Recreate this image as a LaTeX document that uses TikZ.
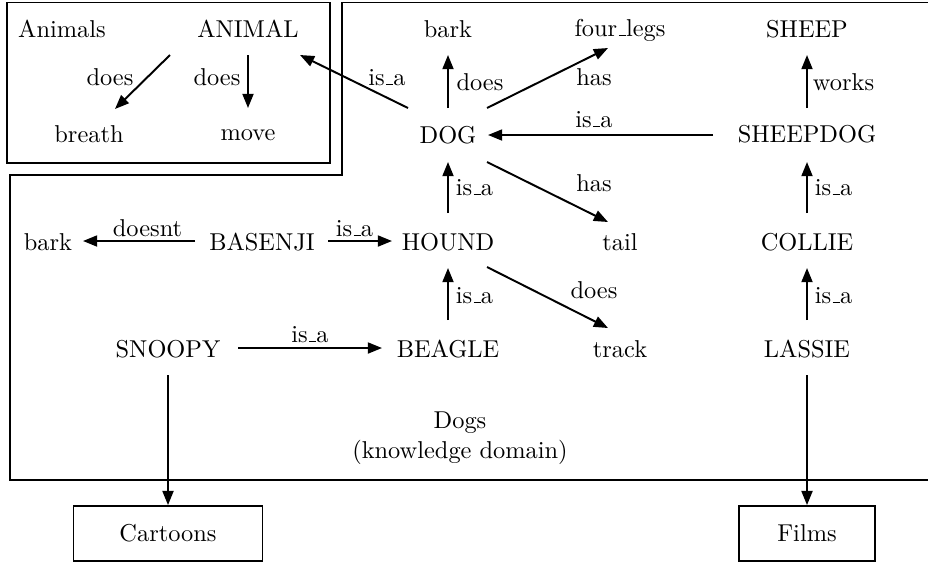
\documentclass[tikz,border=0pt]{standalone}
\usetikzlibrary{arrows.meta}
\newcommand\usc{\leavevmode\kern.06em\vbox{\hrule width.3em}}
\begin{document}
\begin{tikzpicture}[x=0.41pt,y=-0.41pt,
  txt/.style={anchor=base,inner sep=0pt},
  lbl/.style={anchor=base,inner sep=0pt},
  arr/.style={line width=0.8pt,-{Triangle[length=5.8pt,width=4.5pt]}},
  frame/.style={line width=0.8pt},
  box/.style={draw,line width=0.8pt,inner sep=0pt,minimum height=22.5pt}]
\useasboundingbox (0,0) rectangle (928,565);
% frames
\draw[frame] (7,2.5) rectangle (330,163);
\draw[frame] (928,2.5) -- (342,2.5) -- (342,175) -- (10,175) -- (10,480) -- (928,480);
% nodes
\node[txt] (animals) at (62,37) {Animals};
\node[txt] (animal) at (248,37) {ANIMAL};
\node[txt] (breath) at (89,142) {breath};
\node[txt] (move) at (248,140) {move};
\node[txt] (bark1) at (448,37) {bark};
\node[txt] (four) at (620,36) {four\usc legs};
\node[txt] (sheep) at (807,37) {SHEEP};
\node[txt] (dog) at (448,143) {DOG};
\node[txt] (sheepdog) at (807,142) {SHEEPDOG};
\node[txt] (bark2) at (48,250) {bark};
\node[txt] (basenji) at (262,250) {BASENJI};
\node[txt] (hound) at (448,250) {HOUND};
\node[txt] (tail) at (620,250) {tail};
\node[txt] (collie) at (807,250) {COLLIE};
\node[txt] (snoopy) at (168,357) {SNOOPY};
\node[txt] (beagle) at (448,357) {BEAGLE};
\node[txt] (track) at (620,357) {track};
\node[txt] (lassie) at (807,357) {LASSIE};
\node[txt] (dogs1) at (460,428) {Dogs};
\node[txt] (dogs2) at (460,458) {(knowledge domain)};
\node[box,minimum width=77.5pt] (cartoons) at (168,533.5) {Cartoons};
\node[box,minimum width=55.4pt] (films) at (807,533.5) {Films};
% connectors
\draw[arr] ([shift={(-78,18)}]animal.base) -- ([shift={(26,-33)}]breath.base);
\draw[arr] ([shift={(0,18)}]animal.base) -- ([shift={(0,-32)}]move.base);
\draw[arr] ([shift={(-40,-35)}]dog.base) -- ([shift={(52,18)}]animal.base);
\draw[arr] ([shift={(0,-35)}]dog.base) -- ([shift={(0,18)}]bark1.base);
\draw[arr] ([shift={(39,-35)}]dog.base) -- ([shift={(-12,12)}]four.base);
\draw[arr] ([shift={(-94,-7)}]sheepdog.base) -- ([shift={(40,-8)}]dog.base);
\draw[arr] ([shift={(0,-34)}]sheepdog.base) -- ([shift={(0,18)}]sheep.base);
\draw[arr] ([shift={(39,19)}]dog.base) -- ([shift={(-12,-28)}]tail.base);
\draw[arr] ([shift={(0,-37)}]hound.base) -- ([shift={(0,19)}]dog.base);
\draw[arr] ([shift={(0,-37)}]beagle.base) -- ([shift={(0,18)}]hound.base);
\draw[arr] ([shift={(39,17)}]hound.base) -- ([shift={(-12,-29)}]track.base);
\draw[arr] ([shift={(-67,-9)}]basenji.base) -- ([shift={(35,-9)}]bark2.base);
\draw[arr] ([shift={(66,-9)}]basenji.base) -- ([shift={(-56,-9)}]hound.base);
\draw[arr] ([shift={(70,-9)}]snoopy.base) -- ([shift={(-66,-9)}]beagle.base);
\draw[arr] ([shift={(0,-37)}]collie.base) -- ([shift={(0,20)}]sheepdog.base);
\draw[arr] ([shift={(0,-37)}]lassie.base) -- ([shift={(0,18)}]collie.base);
\draw[arr] ([shift={(0,18)}]snoopy.base) -- (cartoons.north);
\draw[arr] ([shift={(0,18)}]lassie.base) -- (films.north);
% labels
\node[lbl] (l1) at (110,85) {does};
\node[lbl] (l2) at (217,85) {does};
\node[lbl] (l3) at (387,85) {is\usc a};
\node[lbl] (l4) at (480,90) {does};
\node[lbl] (l5) at (594,85) {has};
\node[lbl] (l6) at (594,127) {is\usc a};
\node[lbl] (l7) at (843.5,90) {works};
\node[lbl] (l8) at (474.5,195) {is\usc a};
\node[lbl] (l9) at (594,191) {has};
\node[lbl] (l10) at (833.5,195) {is\usc a};
\node[lbl] (l11) at (147.5,236) {doesnt};
\node[lbl] (l12) at (354.5,236) {is\usc a};
\node[lbl] (l13) at (474.5,303) {is\usc a};
\node[lbl] (l14) at (594,298) {does};
\node[lbl] (l15) at (833.5,303) {is\usc a};
\node[lbl] (l16) at (310,342) {is\usc a};
\end{tikzpicture}
\end{document}
